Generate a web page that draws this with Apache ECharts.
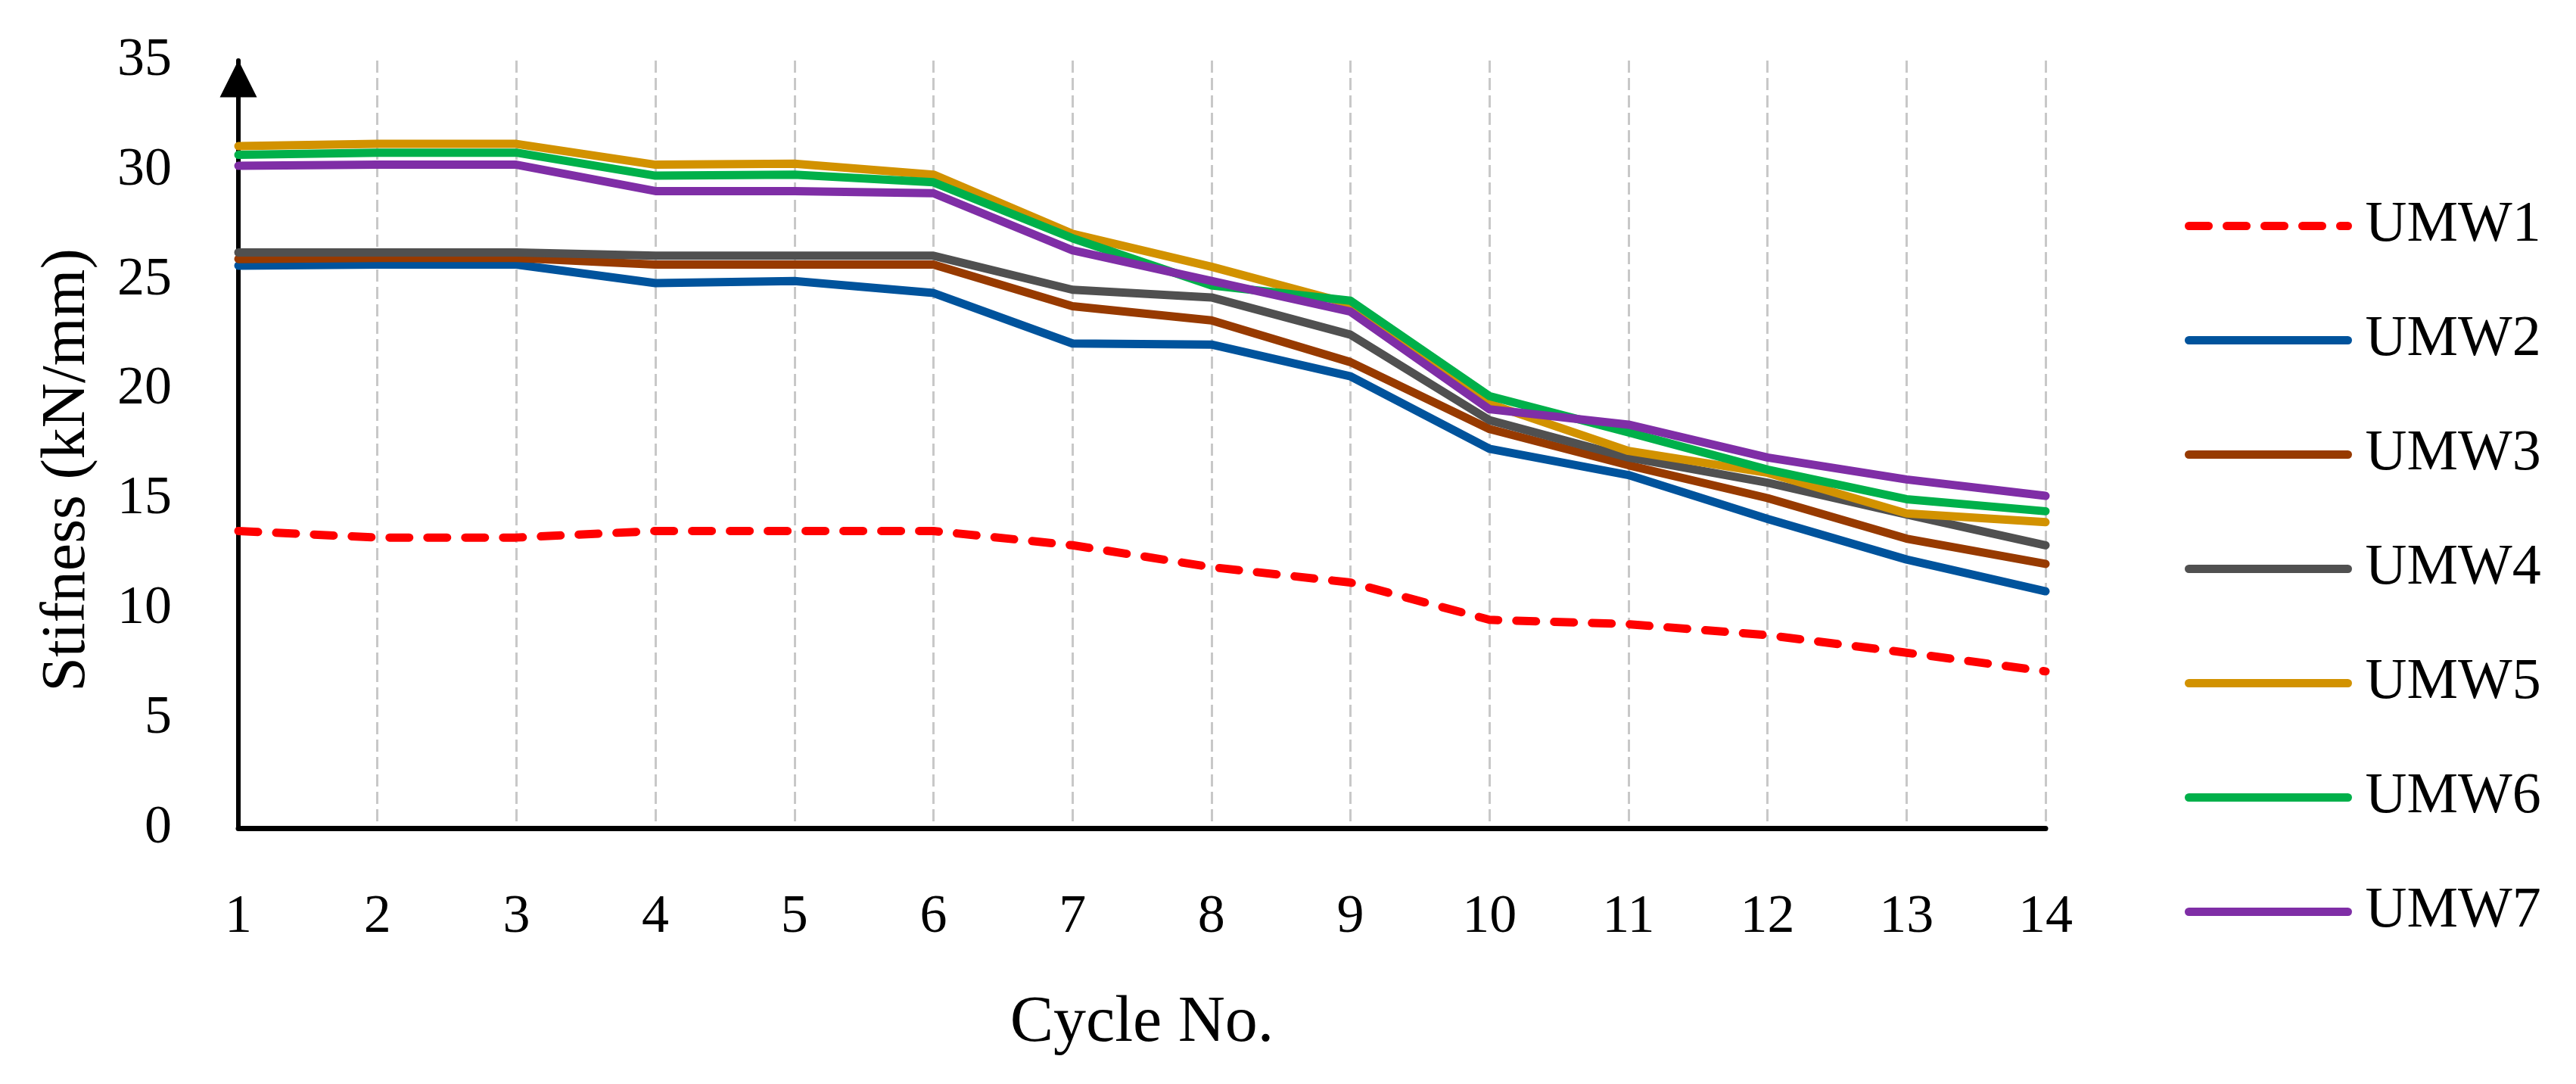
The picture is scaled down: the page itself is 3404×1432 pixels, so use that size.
<!DOCTYPE html>
<html>
<head>
<meta charset="utf-8">
<script src="https://cdn.jsdelivr.net/npm/echarts@6/dist/echarts.min.js"></script>
<style>
html,body{margin:0;padding:0;background:#fff;}
#chart{width:3404px;height:1432px;}
</style>
</head>
<body>
<div id="chart"></div>
<script>
const cycles = ['1','2','3','4','5','6','7','8','9','10','11','12','13','14'];
const seriesNames = ['UMW1','UMW2','UMW3','UMW4','UMW5','UMW6','UMW7'];
const UMW1 = [13.55, 13.25, 13.25, 13.55, 13.55, 13.55, 12.9, 11.9, 11.2, 9.5, 9.3, 8.8, 8.0, 7.15];
const UMW2 = [25.65, 25.7, 25.7, 24.85, 24.95, 24.4, 22.1, 22.05, 20.6, 17.3, 16.1, 14.1, 12.25, 10.8];
const UMW3 = [25.95, 26.0, 26.0, 25.7, 25.7, 25.7, 23.8, 23.15, 21.25, 18.2, 16.55, 15.05, 13.2, 12.05];
const UMW4 = [26.25, 26.25, 26.25, 26.1, 26.1, 26.1, 24.55, 24.2, 22.5, 18.6, 16.9, 15.75, 14.3, 12.9];
const UMW5 = [31.1, 31.2, 31.2, 30.25, 30.3, 29.8, 27.1, 25.6, 23.9, 19.35, 17.2, 16.2, 14.35, 13.95];
const UMW6 = [30.7, 30.8, 30.8, 29.75, 29.8, 29.45, 26.9, 24.75, 24.05, 19.7, 18.05, 16.35, 15.0, 14.45];
const UMW7 = [30.2, 30.25, 30.25, 29.05, 29.05, 28.95, 26.35, 24.95, 23.55, 19.1, 18.4, 16.9, 15.9, 15.15];
const seriesData = [UMW1, UMW2, UMW3, UMW4, UMW5, UMW6, UMW7];
const colors = ['#FF0000', '#00539C', '#973A00', '#505050', '#D29200', '#00B04A', '#7F2EA6'];
const yTicks = {min: 0, max: 35, interval: 5};

const FONT = '"Liberation Serif", "DejaVu Serif", serif';
const chart = echarts.init(document.getElementById('chart'), null, {renderer: 'canvas'});

const series = seriesNames.map((name, i) => ({
  name: name,
  type: 'line',
  data: seriesData[i],
  symbol: 'none',
  showSymbol: false,
  z: 10 + i,
  lineStyle: {
    color: colors[i],
    width: 11,
    type: i === 0 ? [26, 24] : 'solid',
    cap: 'round',
    join: 'round'
  },
  itemStyle: {color: colors[i]},
  emphasis: {disabled: true}
}));

chart.setOption({
  animation: false,
  backgroundColor: '#ffffff',
  textStyle: {fontFamily: FONT, color: '#000'},
  grid: {left: 315, top: 80, width: 2388, height: 1014, containLabel: false},
  legend: {
    orient: 'vertical',
    left: 2882,
    top: 253,
    itemWidth: 210,
    itemHeight: 20,
    itemGap: 70,
    data: seriesNames,
    itemStyle: {opacity: 0},
    lineStyle: {width: 11, cap: 'round'},
    textStyle: {fontFamily: FONT, fontSize: 76, color: '#000', lineHeight: 81, padding: [0, 0, 0, 18]}
  },
  xAxis: {
    type: 'category',
    data: cycles,
    boundaryGap: false,
    name: 'Cycle No.',
    nameLocation: 'middle',
    nameGap: 215,
    nameTextStyle: {fontFamily: FONT, fontSize: 86, color: '#000'},
    axisLine: {show: true, onZero: false, lineStyle: {color: '#000', width: 7}},
    axisTick: {show: false},
    axisLabel: {fontFamily: FONT, fontSize: 72, color: '#000', margin: 82},
    splitLine: {show: true, lineStyle: {color: '#c8c8c8', width: 3, type: [16, 7]}}
  },
  yAxis: {
    type: 'value',
    min: yTicks.min,
    max: yTicks.max,
    interval: yTicks.interval,
    name: 'Stifness (kN/mm)',
    nameLocation: 'middle',
    nameGap: 185,
    nameRotate: 90,
    nameTextStyle: {fontFamily: FONT, fontSize: 82, color: '#000', padding: [0, 68, 0, 0]},
    axisLine: {show: true, symbol: ['none', 'triangle'], symbolSize: [49, 49], symbolOffset: [0, -24], lineStyle: {color: '#000', width: 6}},
    axisTick: {show: false},
    axisLabel: {fontFamily: FONT, fontSize: 72, color: '#000', margin: 88},
    splitLine: {show: false}
  },
  series: series
});
</script>
</body>
</html>
